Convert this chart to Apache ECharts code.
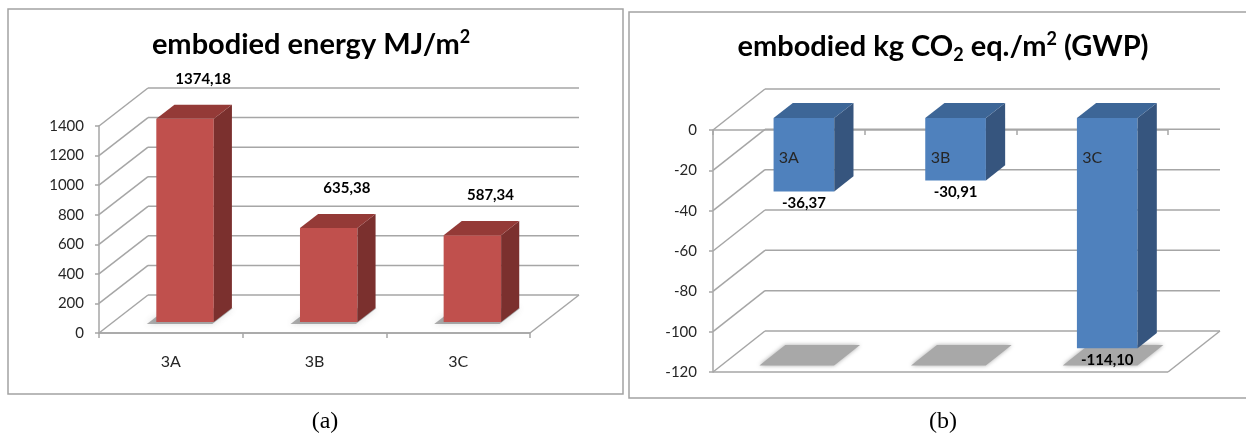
<!DOCTYPE html>
<html>
<head>
<meta charset="utf-8">
<script src="https://cdn.jsdelivr.net/npm/echarts@6/dist/echarts.min.js"></script>
<style>
  html, body { margin: 0; padding: 0; background: #fff; }
  #chart { width: 1246px; height: 437px; }
</style>
</head>
<body>
<div id="chart"></div>
<script>
// Scenario labels and results
const categories = ['3A', '3B', '3C'];
const energyValues = [1374.18, 635.38, 587.34];   // MJ/m2
const gwpValues = [-36.37, -30.91, -114.10];      // kg CO2 eq./m2
const energyTicks = [0, 200, 400, 600, 800, 1000, 1200, 1400];
const gwpTicks = [0, -20, -40, -60, -80, -100, -120];

// Look of the pseudo-3D boxes
const WALL = '#a6a6a6';
const FONT = 'Lato';
const DEPTH_A = [49, -38];     // back-wall offset, left panel (px)
const DEPTH_B = [52, -41];     // back-wall offset, right panel (px)
const F0 = 0.29, F1 = 0.66;    // bar front / back position inside the depth
const BAR_W = 0.4;             // bar width as a share of the category band

const RED = { front: '#c0504d', side: '#7b302e', top: '#943a37' };
const BLUE = { front: '#4f81bd', side: '#36557e', top: '#3d6697' };

const fmt = v => v.toFixed(2).replace('.', ',');

// Back wall, left side wall and floor edges, one call per tick value
function wallRenderer(depth, floorValue) {
  return function (params, api) {
    const cs = params.coordSys;
    const v = api.value(1);
    const y = api.coord([0, v])[1];
    const dx = depth[0], dy = depth[1];
    const x0 = cs.x, x1 = cs.x + cs.width;
    const style = { stroke: WALL, lineWidth: 1.5, fill: null };
    const children = [
      { type: 'line', shape: { x1: x0, y1: y, x2: x0 + dx, y2: y + dy }, style },
      { type: 'line', shape: { x1: x0 + dx, y1: y + dy, x2: x1 + dx, y2: y + dy }, style }
    ];
    if (v === 0 || v === floorValue) {
      children.push({ type: 'line', shape: { x1: x0, y1: y, x2: x1, y2: y }, style });
    }
    if (v === floorValue) {
      children.push({ type: 'line', shape: { x1: x1, y1: y, x2: x1 + dx, y2: y + dy }, style });
    }
    return { type: 'group', children };
  };
}

// Extruded bar with floor shadow and value label
function barRenderer(depth, colors, floorValue, labelBelow, shadow) {
  return function (params, api) {
    const i = api.value(0), v = api.value(1);
    const dx = depth[0], dy = depth[1];
    const top = api.coord([i, Math.max(v, 0)]);
    const bot = api.coord([i, Math.min(v, 0)]);
    const floorY = api.coord([i, floorValue])[1];
    const band = api.size([1, 0])[0];
    const w = band * BAR_W;
    const xl = top[0] - w / 2, xr = top[0] + w / 2;
    const yt = top[1], yb = bot[1];
    const ax = dx * F0, ay = dy * F0, bx = dx * F1, by = dy * F1;

    const s0 = F0 - shadow.depthPad, s1 = F1 + shadow.depthPad * 0.6;
    const pad = shadow.pad;
    const sh = [
      [xl - pad + dx * s0 + shadow.sx, floorY + dy * s0 + shadow.sy],
      [xr + pad + dx * s0 + shadow.sx, floorY + dy * s0 + shadow.sy],
      [xr + pad + dx * s1 + shadow.sx, floorY + dy * s1 + shadow.sy],
      [xl - pad + dx * s1 + shadow.sx, floorY + dy * s1 + shadow.sy]
    ];

    const label = labelBelow
      ? { x: top[0] + ax, y: yb + ay + 12 }
      : { x: top[0] + bx, y: yt + by - 26 };

    return {
      type: 'group',
      children: [
        { type: 'polygon', shape: { points: sh },
          style: { fill: shadow.color, shadowBlur: shadow.blur, shadowColor: shadow.color } },
        { type: 'rect', shape: { x: xl + ax, y: yt + ay, width: w, height: yb - yt },
          style: { fill: colors.front } },
        { type: 'polygon',
          shape: { points: [[xr + ax, yt + ay], [xr + bx, yt + by], [xr + bx, yb + by], [xr + ax, yb + ay]] },
          style: { fill: colors.side } },
        { type: 'polygon',
          shape: { points: [[xl + ax, yt + ay], [xr + ax, yt + ay], [xr + bx, yt + by], [xl + bx, yt + by]] },
          style: { fill: colors.top } },
        { type: 'text', z2: 10,
          style: { text: fmt(v), x: label.x, y: label.y, align: 'center', verticalAlign: 'middle',
                   font: 'bold 15px ' + FONT, fill: '#000' } }
      ]
    };
  };
}

const axisLabelStyle = { fontFamily: FONT, fontSize: 15, color: '#262626' };
const plainNumber = v => String(v);

const titleRich = {
  t: { fontFamily: FONT, fontWeight: 'bold', fontSize: 29, lineHeight: 34, fill: '#000' },
  sup: { fontFamily: FONT, fontWeight: 'bold', fontSize: 18, lineHeight: 18, verticalAlign: 'top', fill: '#000' },
  sub: { fontFamily: FONT, fontWeight: 'bold', fontSize: 18, lineHeight: 18, verticalAlign: 'bottom', fill: '#000' }
};

const chart = echarts.init(document.getElementById('chart'), null, { renderer: 'canvas' });

chart.setOption({
  backgroundColor: '#fff',
  animation: false,
  grid: [
    { left: 99, top: 126, width: 431, height: 207 },
    { left: 713, top: 130, width: 455, height: 242 }
  ],
  xAxis: [
    {
      gridIndex: 0, type: 'category', data: categories,
      axisLine: { show: true, lineStyle: { color: WALL, width: 1.5 } },
      axisTick: { show: true, length: 5, lineStyle: { color: WALL, width: 1.5 } },
      axisLabel: Object.assign({ margin: 21 }, axisLabelStyle, { fontSize: 16 }),
      splitLine: { show: false }
    },
    {
      // runs along the zero line at the top; its line is drawn behind the bars by the wall series
      gridIndex: 1, type: 'category', data: categories, position: 'top', z: 10,
      axisLine: { show: false, onZero: false },
      axisTick: { show: true, inside: true, length: 5, lineStyle: { color: WALL, width: 1.5 } },
      axisLabel: Object.assign({ inside: true, margin: 20 }, axisLabelStyle, { fontSize: 16 }),
      splitLine: { show: false }
    }
  ],
  yAxis: [
    {
      gridIndex: 0, type: 'value', min: 0, max: 1400, interval: 200,
      axisLine: { show: true, lineStyle: { color: WALL, width: 1.5 } },
      axisTick: { show: true, length: 4, lineStyle: { color: WALL, width: 1.5 } },
      axisLabel: Object.assign({ margin: 15, formatter: plainNumber }, axisLabelStyle),
      splitLine: { show: false }
    },
    {
      gridIndex: 1, type: 'value', min: -120, max: 0, interval: 20,
      axisLine: { show: true, lineStyle: { color: WALL, width: 1.5 } },
      axisTick: { show: true, length: 4, lineStyle: { color: WALL, width: 1.5 } },
      axisLabel: Object.assign({ margin: 16, formatter: plainNumber }, axisLabelStyle),
      splitLine: { show: false }
    }
  ],
  series: [
    {
      type: 'custom', xAxisIndex: 0, yAxisIndex: 0, z: 1, silent: true,
      encode: { x: 0, y: 1 },
      data: energyTicks.map(t => [0, t]),
      renderItem: wallRenderer(DEPTH_A, 0)
    },
    {
      type: 'custom', xAxisIndex: 1, yAxisIndex: 1, z: 1, silent: true,
      encode: { x: 0, y: 1 },
      data: gwpTicks.map(t => [0, t]),
      renderItem: wallRenderer(DEPTH_B, -120)
    },
    {
      type: 'custom', xAxisIndex: 0, yAxisIndex: 0, z: 3,
      encode: { x: 0, y: 1 },
      data: energyValues.map((v, i) => [i, v]),
      renderItem: barRenderer(DEPTH_A, RED, 0, false,
        { color: 'rgba(80,80,80,0.45)', blur: 6, pad: 4, depthPad: 0.03, sx: -4, sy: 1 })
    },
    {
      type: 'custom', xAxisIndex: 1, yAxisIndex: 1, z: 3,
      encode: { x: 0, y: 1 },
      data: gwpValues.map((v, i) => [i, v]),
      renderItem: barRenderer(DEPTH_B, BLUE, -120, true,
        { color: '#a8a8a8', blur: 4, pad: 7, depthPad: 0.08, sx: -3, sy: 2 })
    }
  ],
  graphic: [
    { type: 'rect', z: -1, shape: { x: 8, y: 9, width: 615, height: 385 },
      style: { fill: null, stroke: '#a3a3a3', lineWidth: 1.5 } },
    { type: 'rect', z: -1, shape: { x: 629, y: 12, width: 640, height: 386 },
      style: { fill: null, stroke: '#a3a3a3', lineWidth: 1.5 } },
    { type: 'text', x: 311, y: 45,
      style: { text: '{t|embodied energy MJ/m}{sup|2}', rich: titleRich, align: 'center', verticalAlign: 'middle' } },
    { type: 'text', x: 943, y: 47,
      style: { text: '{t|embodied kg CO}{sub|2}{t| eq./m}{sup|2}{t| (GWP)}', rich: titleRich, align: 'center', verticalAlign: 'middle' } },
    { type: 'text', x: 325, y: 422,
      style: { text: '(a)', font: '24px "Liberation Serif"', fill: '#000', align: 'center', verticalAlign: 'middle' } },
    { type: 'text', x: 943, y: 422,
      style: { text: '(b)', font: '24px "Liberation Serif"', fill: '#000', align: 'center', verticalAlign: 'middle' } }
  ]
});
</script>
</body>
</html>
